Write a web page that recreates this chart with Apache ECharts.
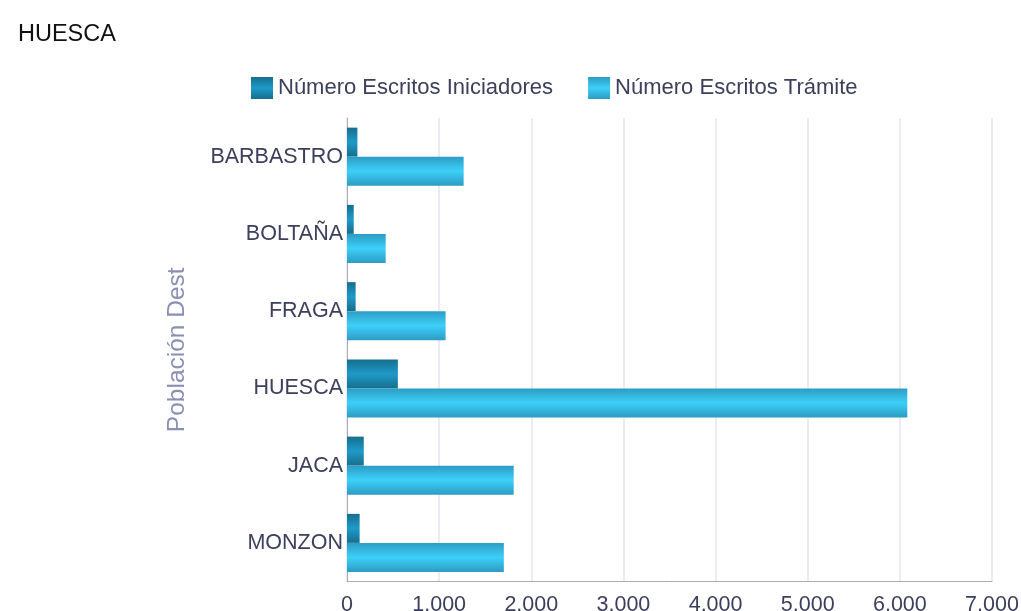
<!DOCTYPE html>
<html>
<head>
<meta charset="utf-8">
<script src="https://cdn.jsdelivr.net/npm/echarts@6/dist/echarts.min.js"></script>
<style>
  html, body { margin: 0; padding: 0; background: #fff; }
  #chart { width: 1021px; height: 611px; }
</style>
</head>
<body>
<div id="chart"></div>
<script>
const categories = ['BARBASTRO', 'BOLTAÑA', 'FRAGA', 'HUESCA', 'JACA', 'MONZON'];
const iniciadores = [113, 73, 94, 552, 182, 137];
const tramite = [1266, 420, 1070, 6081, 1809, 1702];
const seriesNames = ['Número Escritos Iniciadores', 'Número Escritos Trámite'];

const myChart = echarts.init(document.getElementById('chart'));

// barras con degradado: bordes oscuros, centro claro
function grad(edge, mid) {
    return new echarts.graphic.LinearGradient(0, 0, 0, 1, [
        {offset: 0, color: edge},
        {offset: 0.5, color: mid},
        {offset: 1, color: edge}
    ]);
}

const fmt = v => String(v).replace(/\B(?=(\d{3})+(?!\d))/g, '.');
const font = 'Liberation Sans, Arial, sans-serif';

const option = {
    animation: false,
    title: {
        text: 'HUESCA',
        left: 13,
        top: 18,
        textStyle: {fontFamily: font, fontSize: 23.5, fontWeight: 'normal', color: '#111'}
    },
    legend: {
        left: 251,
        top: 77,
        padding: 0,
        itemWidth: 22,
        itemHeight: 22,
        itemGap: 35,
        itemTextGap: 6,
        icon: 'rect',
        textStyle: {fontFamily: font, fontSize: 22, color: '#3d405c'},
        data: seriesNames
    },
    grid: {
        left: 347,
        right: 29,
        top: 118,
        bottom: 29.5,
        outerBoundsMode: 'none'
    },
    xAxis: {
        type: 'value',
        min: 0,
        max: 7000,
        interval: 1000,
        axisLine: {show: true, lineStyle: {color: '#a9a9c2'}},
        axisTick: {show: false},
        splitLine: {show: true, lineStyle: {color: '#e4e4ec', width: 1.5}},
        axisLabel: {
            formatter: fmt,
            fontFamily: font,
            fontSize: 21.5,
            color: '#3d405c',
            margin: 13
        }
    },
    yAxis: {
        type: 'category',
        inverse: true,
        data: categories,
        name: 'Población Dest',
        nameLocation: 'middle',
        nameGap: 157,
        nameTextStyle: {fontFamily: font, fontSize: 24.5, color: '#8a8fb4'},
        axisLine: {show: true, lineStyle: {color: '#a9a9c2'}},
        axisTick: {show: false},
        axisLabel: {fontFamily: font, fontSize: 21.5, color: '#3d405c', margin: 4, padding: [3, 0, 0, 0]}
    },
    series: [
        {
            name: seriesNames[0],
            type: 'bar',
            data: iniciadores,
            barWidth: 29,
            barGap: '0%',
            itemStyle: {color: grad('#166e8e', '#1f9ac9')}
        },
        {
            name: seriesNames[1],
            type: 'bar',
            data: tramite,
            barWidth: 29,
            barGap: '0%',
            itemStyle: {color: grad('#2c9cc3', '#3dd0fa')}
        }
    ]
};

myChart.setOption(option);
</script>
</body>
</html>
